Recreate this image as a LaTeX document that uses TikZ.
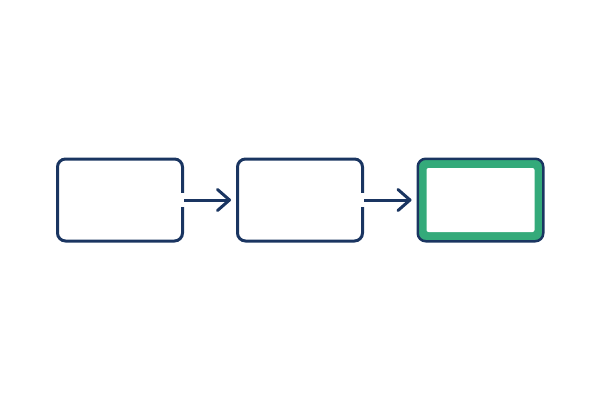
\documentclass[tikz,border=0pt]{standalone}
\usetikzlibrary{positioning}
\usetikzlibrary{arrows.meta}
\definecolor{navy}{HTML}{1A3561}
\definecolor{leaf}{HTML}{34AA7A}

\begin{document}
\begin{tikzpicture}[x=1pt, y=1pt, every node/.style={draw=navy, line width=3pt,
rounded corners=8pt, minimum width=125pt, minimum height=82pt, inner sep=0pt}]
\useasboundingbox (0,0) rectangle (600,400);
\node (a) at (120,200) {};
\node[right = 52pt of a] (b) {};
\node[right = 52.5pt of b, fill=leaf, line width=2.5pt, minimum width=125.5pt,
minimum height=82.5pt] (c) {};
\node[fill=white, draw=none, minimum width=108pt, minimum height=64pt,
rounded corners=2pt] (cin) at (c) {};
\foreach \i/\j in {a/b, b/c}{
\fill[white] ([xshift=-4pt, yshift=-7pt]\i.east) rectangle ([xshift=0.5pt, yshift=7pt]\i.east);
\draw[navy, line width=3pt, -{Straight Barb[round, length=12pt, width=21pt]}]
(\i.east) -- ([xshift=-5pt]\j.west);}
\end{tikzpicture}
\end{document}
